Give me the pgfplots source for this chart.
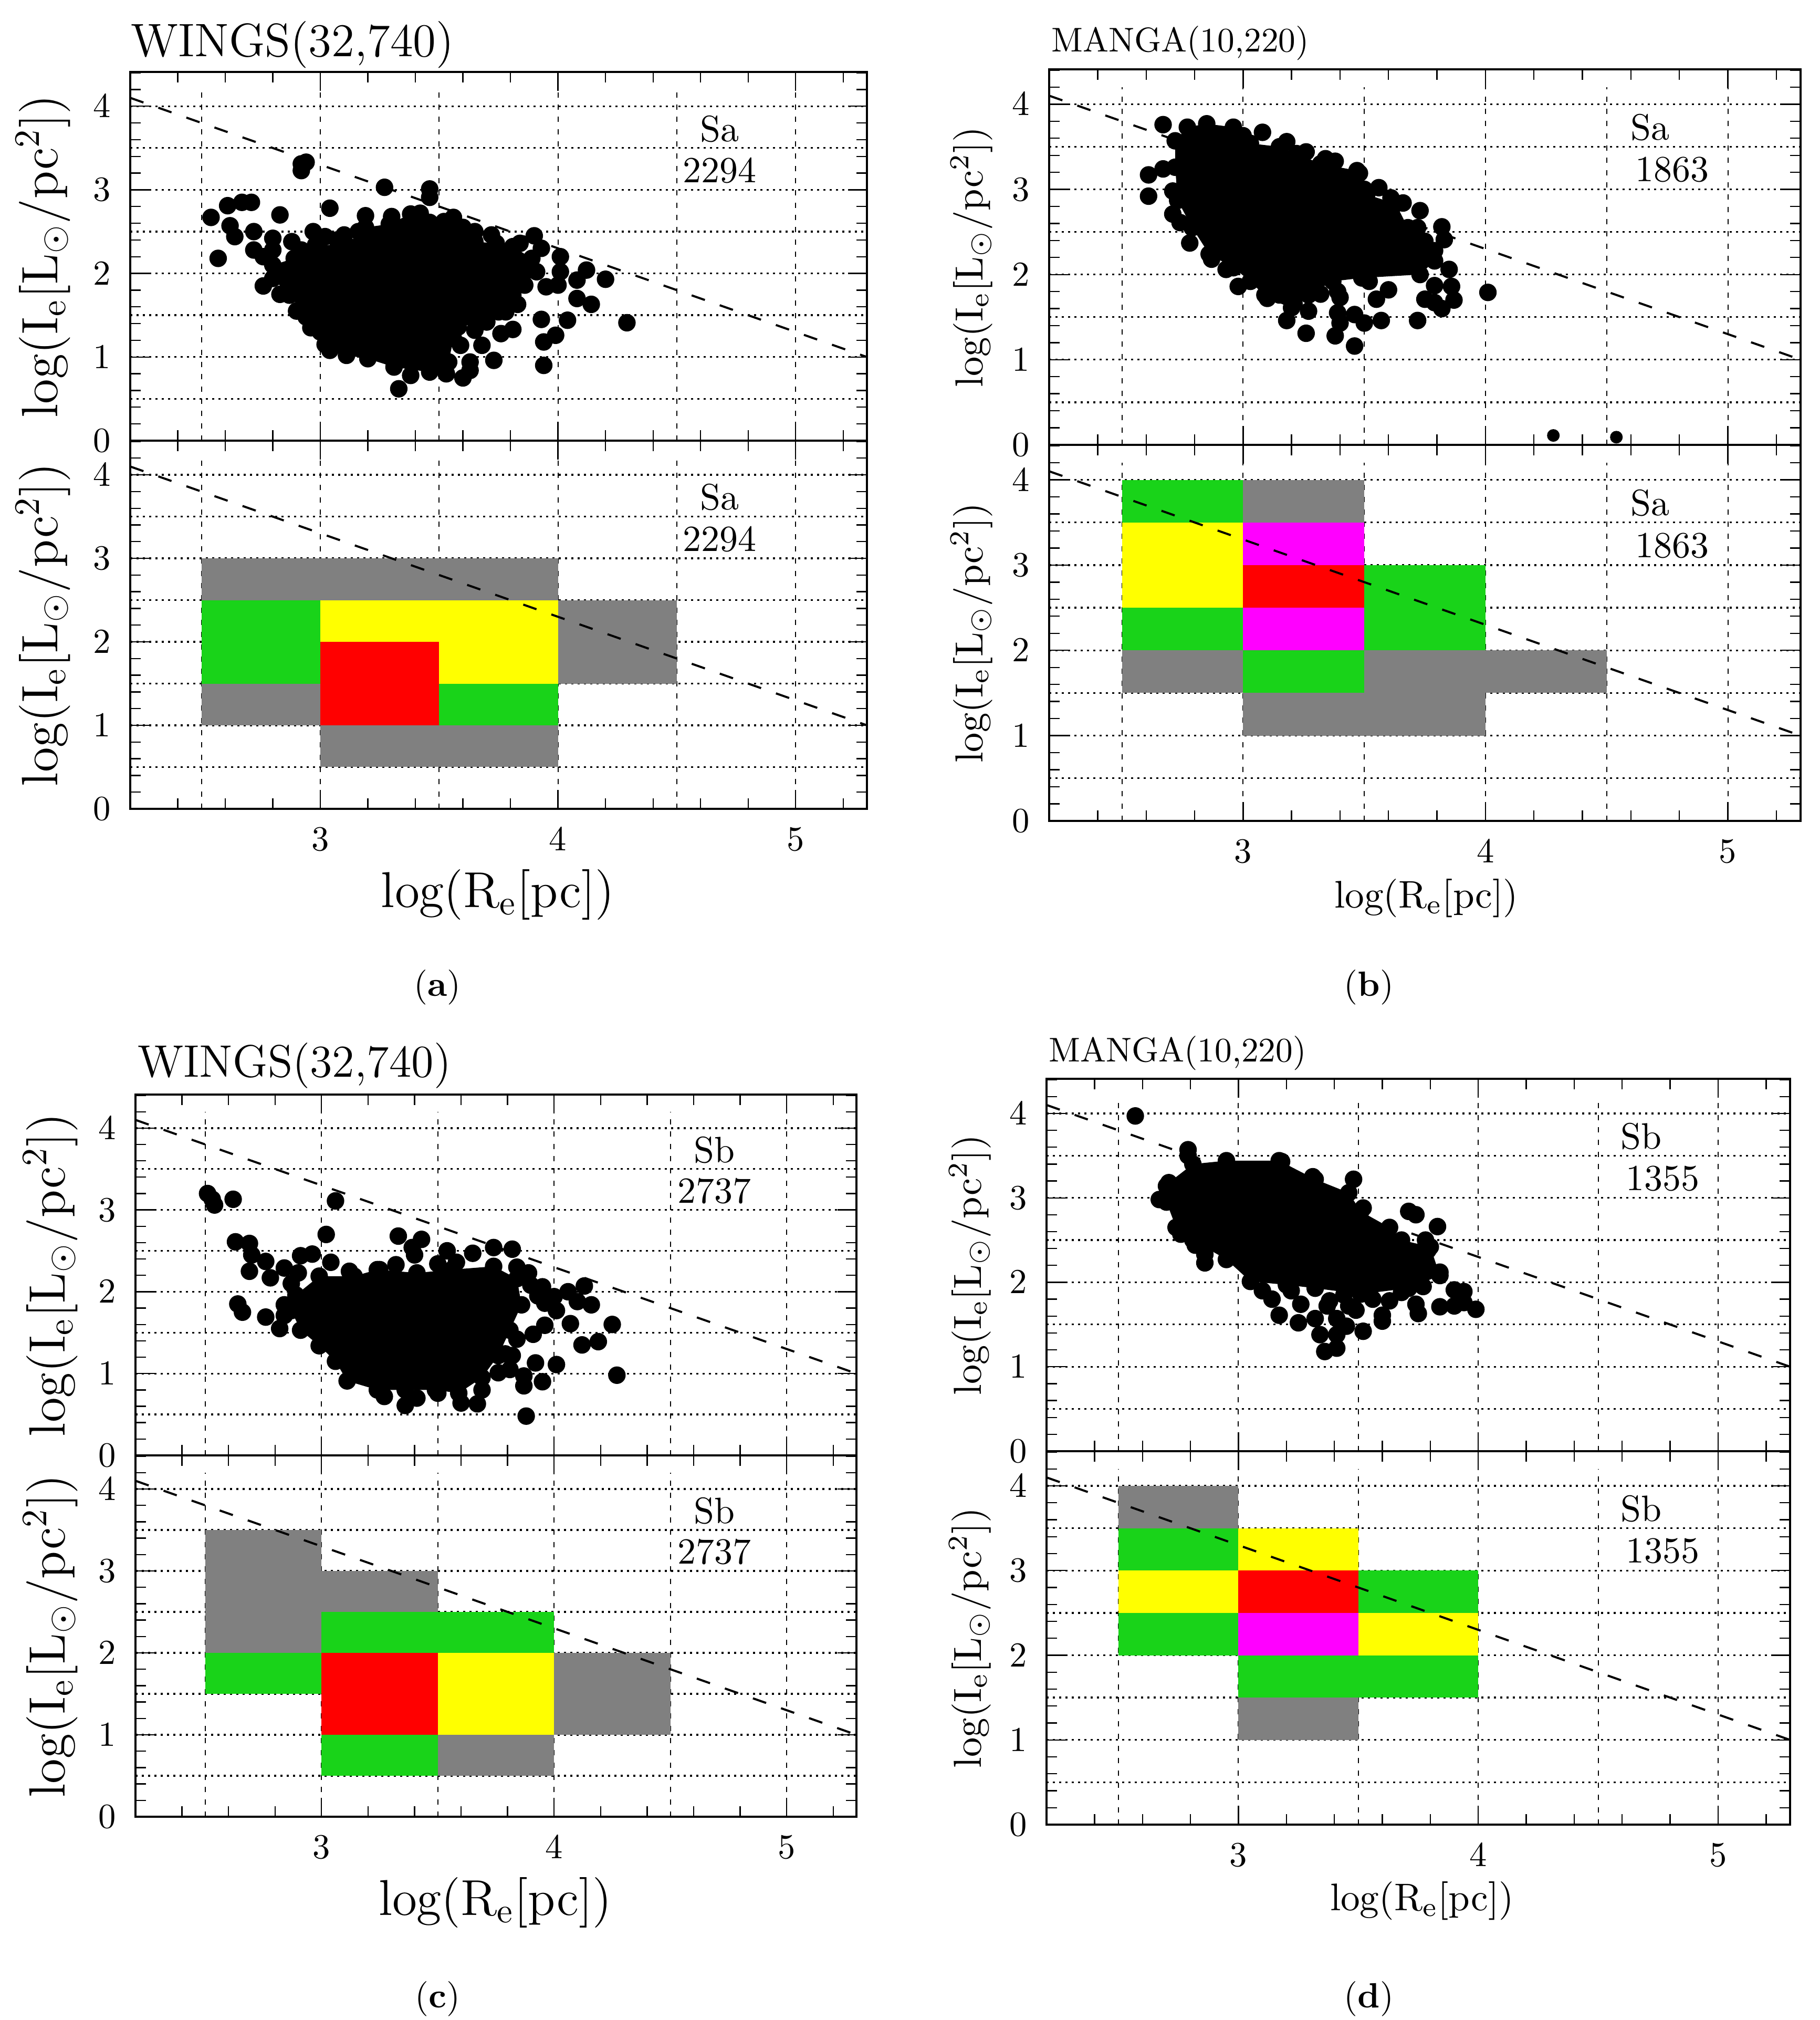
\documentclass[border=0pt]{standalone}
\usepackage{pgfplots}
\usepackage{pgfplotstable}
\usepackage{fix-cm}
\pgfplotsset{compat=1.18}

\definecolor{cgreen}{RGB}{25,211,25}
\definecolor{cgray}{RGB}{128,128,128}
\definecolor{cyellow}{RGB}{255,255,0}
\definecolor{cred}{RGB}{255,0,0}
\definecolor{cmag}{RGB}{255,0,255}

% outline of the dense core of each cloud
\pgfplotstableread[row sep=\\]{x y\\
2.80 2.10\\2.89 2.18\\2.98 2.34\\3.11 2.34\\3.19 2.55\\3.29 2.59\\3.38 2.71\\3.46 2.61\\
3.53 2.55\\3.60 2.55\\3.65 2.38\\3.74 2.36\\3.81 2.32\\3.89 2.18\\3.91 2.02\\3.86 1.86\\
3.81 1.74\\3.78 1.54\\3.70 1.42\\3.58 1.36\\3.56 1.22\\3.54 0.94\\3.53 0.80\\3.46 0.82\\
3.31 0.88\\3.20 0.98\\3.11 1.02\\3.04 1.08\\3.00 1.30\\2.94 1.48\\2.87 1.74\\2.80 1.94\\
}\coreA
\pgfplotstableread[row sep=\\]{x y\\
2.72 3.57\\2.77 3.73\\2.85 3.77\\2.96 3.73\\3.03 3.54\\3.15 3.50\\3.22 3.42\\3.32 3.30\\
3.47 3.22\\3.51 2.94\\3.63 2.83\\3.68 2.55\\3.75 2.39\\3.79 2.16\\3.73 2.00\\3.49 1.96\\
3.37 1.92\\3.27 1.76\\3.20 1.61\\3.10 1.72\\3.03 1.92\\2.96 2.08\\2.86 2.24\\2.79 2.55\\
2.73 2.87\\2.72 3.26\\
}\coreB
\pgfplotstableread[row sep=\\]{x y\\
2.89 1.96\\2.99 2.19\\3.14 2.19\\3.24 2.27\\3.41 2.23\\3.56 2.27\\3.74 2.31\\3.84 2.16\\
3.86 1.84\\3.81 1.53\\3.76 1.22\\3.69 0.95\\3.59 0.76\\3.49 0.80\\3.36 0.80\\3.24 0.80\\
3.11 0.91\\3.06 1.15\\2.99 1.34\\2.91 1.53\\2.87 1.77\\
}\coreC
\pgfplotstableread[row sep=\\]{x y\\
2.70 2.95\\2.71 3.18\\2.81 3.40\\2.95 3.44\\3.17 3.44\\3.32 3.22\\3.46 3.06\\3.51 2.84\\
3.63 2.65\\3.68 2.50\\3.80 2.42\\3.84 2.08\\3.71 1.93\\3.51 1.86\\3.32 1.93\\3.20 1.97\\
3.05 2.01\\2.95 2.27\\2.81 2.50\\2.74 2.65\\
}\coreD

% galaxies outside the core
\pgfplotstableread[row sep=\\]{x y\\
2.92 3.31\\2.92 3.23\\2.94 3.33\\3.27 3.03\\3.46 3.01\\3.46 2.91\\3.04 2.78\\2.83 2.70\\
2.54 2.67\\2.61 2.81\\2.67 2.85\\2.71 2.85\\2.62 2.57\\2.64 2.44\\2.72 2.50\\2.80 2.42\\
2.88 2.38\\2.72 2.28\\2.57 2.18\\2.76 1.85\\2.83 1.75\\2.97 2.50\\3.07 2.40\\3.16 2.50\\
3.19 2.69\\3.56 2.67\\3.90 2.45\\3.93 2.30\\4.01 2.20\\4.01 2.02\\4.12 2.04\\4.08 1.92\\
4.20 1.93\\4.08 1.70\\4.14 1.63\\3.93 1.45\\4.04 1.44\\4.29 1.41\\3.81 1.33\\3.76 1.28\\
3.99 1.26\\3.94 1.18\\3.68 1.14\\3.59 1.14\\3.73 0.96\\3.94 0.90\\3.63 0.94\\3.63 0.84\\
3.60 0.75\\3.53 0.80\\3.38 0.78\\3.33 0.62\\3.83 1.63\\3.75 1.54\\3.70 1.42\\3.65 1.32\\
3.95 1.84\\4.00 1.86\\2.76 2.20\\2.80 2.28\\2.92 2.28\\3.02 2.44\\3.10 2.46\\3.30 2.68\\
3.42 2.72\\3.52 2.62\\3.65 2.50\\3.72 2.46\\3.84 2.36\\2.90 1.55\\2.96 1.35\\3.02 1.15\\
}\outA
\pgfplotstableread[row sep=\\]{x y\\
2.67 3.76\\2.61 3.17\\2.67 3.24\\2.61 2.92\\2.71 2.98\\2.71 2.71\\2.74 2.61\\2.78 2.37\\
2.87 2.18\\2.93 2.06\\2.98 1.86\\3.08 3.67\\3.00 3.63\\3.38 3.33\\3.48 3.19\\3.50 3.00\\
3.61 2.90\\3.73 2.75\\3.82 2.56\\3.83 2.41\\3.79 2.28\\3.85 2.06\\3.79 1.87\\3.86 1.86\\
4.01 1.79\\3.75 1.71\\3.79 1.67\\3.82 1.60\\3.87 1.70\\3.52 1.92\\3.60 1.82\\3.55 1.71\\
3.32 1.77\\3.39 1.80\\3.40 1.73\\3.27 1.57\\3.18 1.46\\3.26 1.31\\3.38 1.28\\3.46 1.16\\
3.39 1.55\\3.40 1.43\\3.46 1.53\\3.50 1.43\\3.57 1.46\\3.72 1.46\\3.15 1.76\\3.21 1.66\\
3.09 1.76\\3.18 3.56\\3.26 3.44\\3.34 3.36\\3.56 3.02\\3.66 2.84\\3.72 2.55\\
}\outB
\pgfplotstableread[row sep=\\]{x y\\
2.51 3.20\\2.53 3.13\\2.54 3.06\\2.62 3.13\\3.06 3.11\\3.02 2.70\\2.63 2.61\\2.69 2.59\\
2.70 2.45\\2.76 2.37\\2.69 2.25\\2.78 2.17\\2.84 2.29\\2.90 2.23\\2.87 2.10\\2.91 2.44\\
2.96 2.46\\3.04 2.36\\3.12 2.25\\2.64 1.85\\2.66 1.75\\2.76 1.69\\2.82 1.55\\2.84 1.84\\
2.84 1.71\\3.33 2.68\\3.43 2.64\\3.39 2.54\\3.40 2.45\\3.54 2.50\\3.65 2.47\\3.74 2.54\\
3.82 2.52\\3.32 2.33\\3.25 2.27\\3.89 2.23\\3.95 2.06\\4.13 2.07\\4.06 2.00\\4.00 1.94\\
4.10 1.88\\4.16 1.84\\4.01 1.77\\3.96 1.86\\4.07 1.61\\4.25 1.60\\4.19 1.39\\4.12 1.35\\
3.96 1.59\\3.91 1.48\\3.84 1.42\\3.79 1.24\\3.82 1.22\\3.92 1.13\\4.01 1.11\\3.81 1.05\\
3.76 1.01\\4.27 0.98\\3.87 0.97\\3.87 0.85\\3.95 0.90\\3.69 0.80\\3.67 0.63\\3.60 0.64\\
3.50 0.76\\3.36 0.61\\3.41 0.70\\3.27 0.72\\3.88 0.48\\3.58 2.36\\3.50 2.34\\3.84 2.30\\
3.90 2.08\\3.93 1.95\\
}\outC
\pgfplotstableread[row sep=\\]{x y\\
2.57 3.97\\2.79 3.57\\2.79 3.50\\2.67 2.98\\2.70 3.14\\2.76 2.57\\2.82 2.44\\2.86 2.33\\
2.86 2.23\\2.95 3.42\\3.18 3.43\\3.31 3.25\\3.48 3.22\\3.52 2.88\\3.71 2.84\\3.74 2.80\\
3.83 2.66\\3.78 2.50\\3.79 2.38\\3.84 2.12\\3.77 1.95\\3.90 1.91\\3.94 1.89\\3.94 1.76\\
3.84 1.71\\3.90 1.72\\3.99 1.68\\3.74 1.74\\3.75 1.63\\3.68 1.88\\3.63 1.78\\3.60 1.61\\
3.60 1.54\\3.52 1.42\\3.49 1.67\\3.46 1.72\\3.38 1.78\\3.37 1.72\\3.41 1.57\\3.45 1.48\\
3.41 1.38\\3.41 1.22\\3.36 1.18\\3.34 1.38\\3.32 1.57\\3.25 1.52\\3.17 1.61\\3.14 1.80\\
3.26 1.74\\3.10 1.90\\3.22 1.90\\3.44 1.85\\3.56 1.80\\
}\outD

\pgfplotsset{
  panel/.style={
    scale only axis, anchor=south west,
    xmin=2.2, xmax=5.3, ymin=0, ymax=4.41,
    xtick={3,4,5}, ytick={0,1,2,3,4},
    minor xtick={2.4,2.6,2.8,3.2,3.4,3.6,3.8,4.2,4.4,4.6,4.8,5.2},
    minor ytick={0.2,0.4,0.6,0.8,1.2,1.4,1.6,1.8,2.2,2.4,2.6,2.8,3.2,3.4,3.6,3.8,4.2,4.4},
    tick align=inside, tick pos=both,
    major tick length=5.4pt, minor tick length=3pt,
    every tick/.style={black,line width=0.35pt},
    minor tick style={black,line width=0.35pt},
    axis line style={line width=0.55pt},
    xticklabel style={yshift=-2pt}, yticklabel style={xshift=-2pt},
    clip=false,
  },
  toprow/.style={panel, xticklabels={}},
  wlabel/.style={ylabel style={at={(axis description cs:-0.118,0.5)},anchor=center,font=\fontsize{14.6}{16}\selectfont}},
  mlabel/.style={ylabel style={at={(axis description cs:-0.103,0.5)},anchor=center,font=\fontsize{11.2}{13}\selectfont}},
  ylabel={$\mathrm{log(I_e[L_\odot/pc^2])}$},
}

\newcommand{\grids}{%
  \addplot[line width=0.5pt,dash pattern=on 0.6pt off 1.2pt] coordinates {(2.2,0.5)(5.3,0.5)};
  \addplot[line width=0.5pt,dash pattern=on 0.6pt off 1.2pt] coordinates {(2.2,1)(5.3,1)};
  \addplot[line width=0.5pt,dash pattern=on 0.6pt off 1.2pt] coordinates {(2.2,1.5)(5.3,1.5)};
  \addplot[line width=0.5pt,dash pattern=on 0.6pt off 1.2pt] coordinates {(2.2,2)(5.3,2)};
  \addplot[line width=0.5pt,dash pattern=on 0.6pt off 1.2pt] coordinates {(2.2,2.5)(5.3,2.5)};
  \addplot[line width=0.5pt,dash pattern=on 0.6pt off 1.2pt] coordinates {(2.2,3)(5.3,3)};
  \addplot[line width=0.5pt,dash pattern=on 0.6pt off 1.2pt] coordinates {(2.2,3.5)(5.3,3.5)};
  \addplot[line width=0.5pt,dash pattern=on 0.6pt off 1.2pt] coordinates {(2.2,4)(5.3,4)};
  \addplot[line width=0.3pt,dash pattern=on 1.5pt off 2pt] coordinates {(2.5,0)(2.5,4.2)};
  \addplot[line width=0.3pt,dash pattern=on 1.5pt off 2pt] coordinates {(3,0)(3,4.2)};
  \addplot[line width=0.3pt,dash pattern=on 1.5pt off 2pt] coordinates {(3.5,0)(3.5,4.2)};
  \addplot[line width=0.3pt,dash pattern=on 1.5pt off 2pt] coordinates {(4,0)(4,4.2)};
  \addplot[line width=0.3pt,dash pattern=on 1.5pt off 2pt] coordinates {(4.5,0)(4.5,4.2)};
  \addplot[line width=0.3pt,dash pattern=on 1.5pt off 2pt] coordinates {(5,0)(5,4.2)};
}
\newcommand{\fitline}{\addplot[line width=0.6pt,dash pattern=on 4pt off 4.5pt] coordinates {(2.2,4.1)(5.3,1.0)};}
\newcommand{\cloud}[2]{%
  \addplot[fill=black,draw=none] table {#1} -- cycle;
  \addplot[only marks,mark=*,mark size=2.3pt,mark options={fill=black,draw=black}] table {#1};
  \addplot[only marks,mark=*,mark size=2.3pt,mark options={fill=black,draw=black}] table {#2};
}
\newcommand{\cell}[5]{\addplot[fill=#1,draw=none] coordinates {(#2,#4)(#3,#4)(#3,#5)(#2,#5)} -- cycle;}
\newcommand{\tag}[4]{%
  \node[font=\fontsize{10.5}{12}\selectfont] at (axis cs:#1,3.73) {#3};
  \node[font=\fontsize{10.5}{12}\selectfont] at (axis cs:#2,3.23) {#4};
}

\begin{document}
\begin{tikzpicture}
\path[use as bounding box] (0,0) rectangle (519.75pt,576.9pt);

% (a) WINGS Sa
\begin{axis}[toprow, wlabel, at={(37.2pt,451.05pt)}, width=210.45pt, height=105.3pt]
\grids \fitline
\cloud{\coreA}{\outA}
\tag{4.68}{4.68}{Sa}{2294}
\node[anchor=west,font=\fontsize{13.4}{15}\selectfont,inner sep=0pt] at (rel axis cs:0.0,1.073) {WINGS(32,740)};
\end{axis}
\begin{axis}[panel, wlabel, at={(37.2pt,345.9pt)}, width=210.45pt, height=105.15pt,
  xlabel={$\mathrm{log(R_e[pc])}$},
  xlabel style={at={(axis description cs:0.499,-0.233)},anchor=center,font=\fontsize{14.4}{16}\selectfont}]
\grids
\cell{cgray}{2.5}{4}{2.5}{3}
\cell{cgreen}{2.5}{3}{1.5}{2.5}
\cell{cyellow}{3}{4}{2}{2.5}
\cell{cyellow}{3.5}{4}{1.5}{2}
\cell{cred}{3}{3.5}{1}{2}
\cell{cgreen}{3.5}{4}{1}{1.5}
\cell{cgray}{2.5}{3}{1}{1.5}
\cell{cgray}{3}{4}{0.5}{1}
\cell{cgray}{4}{4.5}{1.5}{2.5}
\fitline
\tag{4.68}{4.68}{Sa}{2294}
\end{axis}

% (b) MANGA Sa
\begin{axis}[toprow, mlabel, at={(299.7pt,449.85pt)}, width=214.65pt, height=107.25pt]
\grids \fitline
\cloud{\coreB}{\outB}
\addplot[only marks,mark=*,mark size=1.6pt,mark options={fill=black,draw=black}] coordinates {(4.28,0.11)(4.54,0.09)};
\tag{4.68}{4.77}{Sa}{1863}
\node[anchor=west,font=\fontsize{9.8}{12}\selectfont,inner sep=0pt] at (rel axis cs:0.002,1.069) {MANGA(10,220)};
\end{axis}
\begin{axis}[panel, mlabel, at={(299.7pt,342.45pt)}, width=214.65pt, height=107.4pt,
  xlabel={$\mathrm{log(R_e[pc])}$},
  xlabel style={at={(axis description cs:0.502,-0.205)},anchor=center,font=\fontsize{11}{13}\selectfont}]
\grids
\cell{cgreen}{2.5}{3}{3.5}{4}
\cell{cgray}{3}{3.5}{3.5}{4}
\cell{cyellow}{2.5}{3}{2.5}{3.5}
\cell{cmag}{3}{3.5}{3}{3.5}
\cell{cred}{3}{3.5}{2.5}{3}
\cell{cgreen}{3.5}{4}{2}{3}
\cell{cgreen}{2.5}{3}{2}{2.5}
\cell{cmag}{3}{3.5}{2}{2.5}
\cell{cgray}{2.5}{3}{1.5}{2}
\cell{cgreen}{3}{3.5}{1.5}{2}
\cell{cgray}{3.5}{4.5}{1.5}{2}
\cell{cgray}{3}{4}{1}{1.5}
\fitline
\tag{4.68}{4.77}{Sa}{1863}
\end{axis}

% (c) WINGS Sb
\begin{axis}[toprow, wlabel, at={(38.7pt,161.25pt)}, width=205.95pt, height=103.05pt]
\grids \fitline
\cloud{\coreC}{\outC}
\tag{4.69}{4.69}{Sb}{2737}
\node[anchor=west,font=\fontsize{13}{15}\selectfont,inner sep=0pt] at (rel axis cs:0.002,1.08) {WINGS(32,740)};
\end{axis}
\begin{axis}[panel, wlabel, at={(38.7pt,58.05pt)}, width=205.95pt, height=103.2pt,
  xlabel={$\mathrm{log(R_e[pc])}$},
  xlabel style={at={(axis description cs:0.499,-0.237)},anchor=center,font=\fontsize{14.4}{16}\selectfont}]
\grids
\cell{cgray}{2.5}{3}{2}{3.5}
\cell{cgray}{3}{3.5}{2.5}{3}
\cell{cgreen}{3}{4}{2}{2.5}
\cell{cgreen}{2.5}{3}{1.5}{2}
\cell{cred}{3}{3.5}{1}{2}
\cell{cyellow}{3.5}{4}{1}{2}
\cell{cgray}{4}{4.5}{1}{2}
\cell{cgreen}{3}{3.5}{0.5}{1}
\cell{cgray}{3.5}{4}{0.5}{1}
\fitline
\tag{4.69}{4.69}{Sb}{2737}
\end{axis}

% (d) MANGA Sb
\begin{axis}[toprow, mlabel, at={(298.95pt,162.45pt)}, width=212.4pt, height=106.35pt]
\grids \fitline
\cloud{\coreD}{\outD}
\tag{4.68}{4.77}{Sb}{1355}
\node[anchor=west,font=\fontsize{9.8}{12}\selectfont,inner sep=0pt] at (rel axis cs:0.002,1.069) {MANGA(10,220)};
\end{axis}
\begin{axis}[panel, mlabel, at={(298.95pt,55.8pt)}, width=212.4pt, height=106.65pt,
  xlabel={$\mathrm{log(R_e[pc])}$},
  xlabel style={at={(axis description cs:0.505,-0.204)},anchor=center,font=\fontsize{11}{13}\selectfont}]
\grids
\cell{cgray}{2.5}{3}{3.5}{4}
\cell{cgreen}{2.5}{3}{3}{3.5}
\cell{cyellow}{3}{3.5}{3}{3.5}
\cell{cyellow}{2.5}{3}{2.5}{3}
\cell{cred}{3}{3.5}{2.5}{3}
\cell{cgreen}{3.5}{4}{2.5}{3}
\cell{cgreen}{2.5}{3}{2}{2.5}
\cell{cmag}{3}{3.5}{2}{2.5}
\cell{cyellow}{3.5}{4}{2}{2.5}
\cell{cgreen}{3}{4}{1.5}{2}
\cell{cgray}{3}{3.5}{1}{1.5}
\fitline
\tag{4.68}{4.77}{Sb}{1355}
\end{axis}

\node[font=\fontsize{10}{12}\selectfont] at (125pt,294.9pt) {(\textbf{a})};
\node[font=\fontsize{10}{12}\selectfont] at (391pt,294.9pt) {(\textbf{b})};
\node[font=\fontsize{10}{12}\selectfont] at (125pt,6pt) {(\textbf{c})};
\node[font=\fontsize{10}{12}\selectfont] at (391pt,6pt) {(\textbf{d})};
\end{tikzpicture}
\end{document}
